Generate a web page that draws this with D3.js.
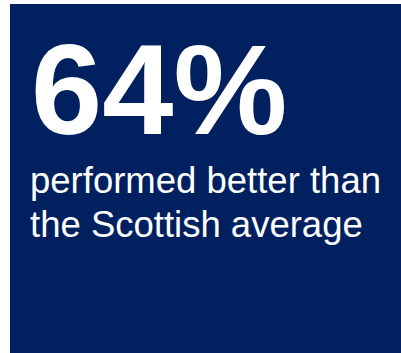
<!DOCTYPE html>
<html>
<head>
<meta charset="utf-8">
<script src="https://cdn.jsdelivr.net/npm/d3@7"></script>
<style>
  html, body { margin: 0; padding: 0; background: #fff; }
</style>
</head>
<body>
<div class="container"></div>
<script>
// headline figure and its caption
const values = [64]
const captionLines = ['performed better than', 'the Scottish average']

const W = 401, H = 353

const svg = d3.select('.container')
    .append('svg')
    .attr('width', W)
    .attr('height', H)

// navy panel
svg.append('rect')
    .attr('x', 10)
    .attr('y', 4)
    .attr('width', W - 10)
    .attr('height', H - 4)
    .attr('fill', '#002060')

// big percentage
svg.selectAll('text.big')
    .data(values)
    .join('text')
    .attr('class', 'big')
    .attr('x', 31)
    .attr('y', 134)
    .attr('fill', '#fff')
    .style('font-family', '"Liberation Sans", Arial, sans-serif')
    .style('font-weight', 'bold')
    .style('font-size', '128px')
    .text(d => d3.format('d')(d) + '%')

// caption lines
svg.selectAll('text.cap')
    .data(captionLines)
    .join('text')
    .attr('class', 'cap')
    .attr('x', 30)
    .attr('y', (d, i) => 193 + i * 44)
    .attr('fill', '#fff')
    .style('font-family', '"Liberation Sans", Arial, sans-serif')
    .style('font-size', '36.5px')
    .text(d => d)
</script>
</body>
</html>
